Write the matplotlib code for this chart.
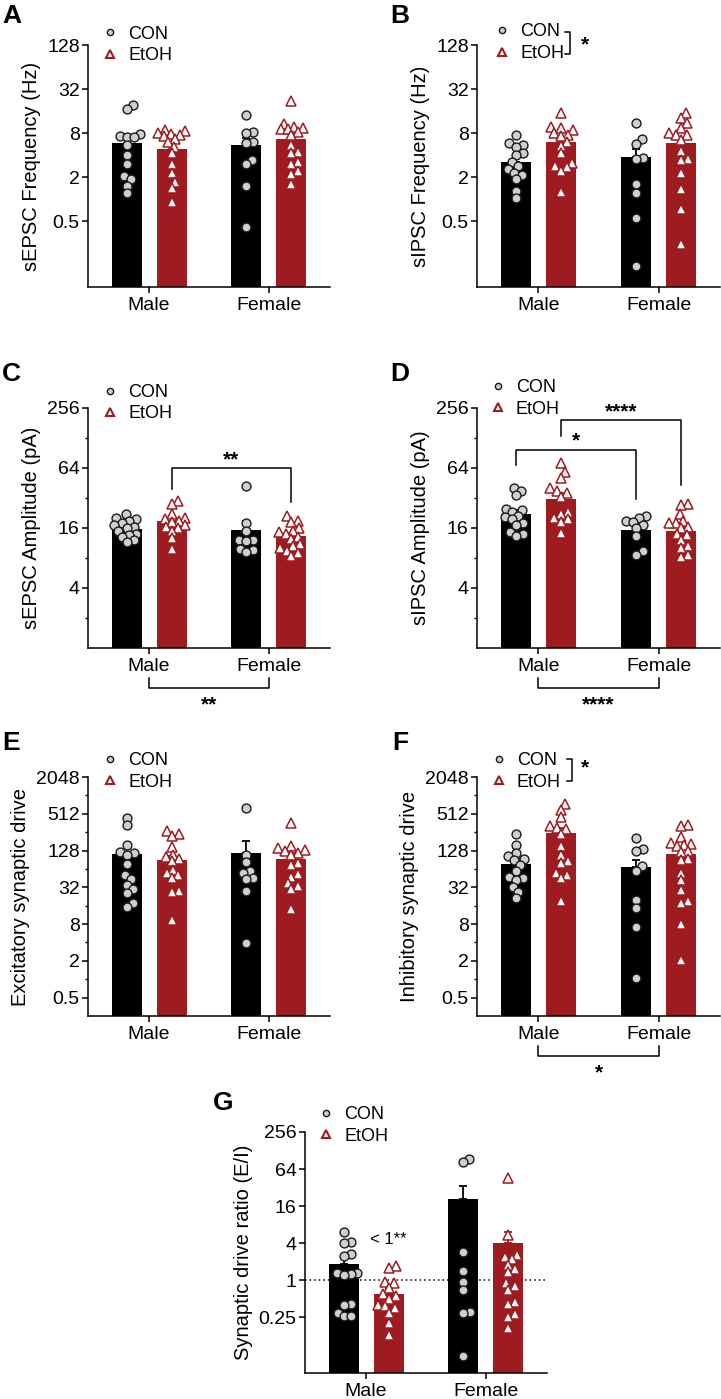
import numpy as np
import matplotlib
matplotlib.use('Agg')
import matplotlib.pyplot as plt
from matplotlib.lines import Line2D

plt.rcParams['font.family'] = ['Liberation Sans', 'DejaVu Sans']

W, H = 721, 1399
RED = '#9e1b20'
GREY = '#cfcfcf'

groups = ['Male', 'Female']
conditions = ['CON', 'EtOH']

# each panel: [male CON, male EtOH, female CON, female EtOH]
sepsc_freq = [
    [19.5, 17.1, 7.8, 7.2, 7.0, 7.0, 5.4, 4.05, 3.0, 2.05, 1.85, 1.53, 1.21],
    [8.8, 8.4, 8.0, 7.8, 7.6, 7.2, 6.6, 6.0, 5.2, 4.2, 3.0, 2.3, 1.7, 1.4, 0.9],
    [14.2, 8.2, 8.0, 6.0, 5.8, 3.4, 3.0, 1.5, 0.42],
    [21.6, 10.5, 9.8, 9.4, 9.0, 9.0, 8.2, 7.4, 5.5, 4.4, 4.2, 3.2, 3.0, 2.4, 2.2, 1.6],
]
sepsc_freq_mean = [5.8, 4.85, 5.4, 6.6]
sepsc_freq_sem = [1.4, 0.6, 1.4, 1.2]

sipsc_freq = [
    [7.4, 5.8, 5.5, 5.2, 4.2, 4.0, 3.2, 2.8, 2.6, 2.3, 2.1, 1.85, 1.3, 1.04],
    [14.9, 9.6, 9.4, 8.8, 7.9, 7.6, 7.2, 6.0, 5.3, 4.2, 3.1, 2.8, 2.7, 2.4, 1.24],
    [10.9, 6.6, 5.7, 3.6, 3.5, 1.58, 1.2, 0.55, 0.12],
    [15, 12.8, 10.9, 9.5, 8.0, 7.6, 7.4, 6.5, 4.5, 3.5, 3.4, 2.3, 1.35, 0.72, 0.24],
]
sipsc_freq_mean = [3.2, 6.1, 3.76, 5.85]
sipsc_freq_sem = [0.6, 0.9, 1.1, 1.0]

sepsc_amp = [
    [22, 20, 19.5, 19, 18, 17, 16.5, 16, 15, 14, 13.5, 13, 12, 11.5],
    [30, 28, 22, 20, 19.5, 19, 18.5, 17, 16.5, 16, 15, 12.7, 9.8],
    [42, 18, 15, 12.2, 12, 11.8, 9.8, 9.6, 9.1],
    [21, 19, 18.5, 16, 15, 14.5, 14, 13, 12.5, 11, 10.5, 10, 9.5, 9, 8.3],
]
sepsc_amp_mean = [15.8, 18.7, 15.4, 13.2]
sepsc_amp_sem = [0.9, 1.6, 3.3, 0.9]

sipsc_amp = [
    [40, 38, 34, 25, 24, 23, 21, 20.5, 19.5, 18, 17, 14.5, 14, 13.2],
    [72, 58, 51, 40, 38, 36, 33, 23, 22, 20, 19.5, 18.5, 14.2],
    [21, 20, 19, 18.5, 17, 16, 13.2, 9.3, 8.6],
    [28, 27, 22, 19, 18, 18, 16.5, 16, 14, 13.5, 12.2, 10.5, 10, 8.6, 8.2],
]
sipsc_amp_mean = [22.1, 31.3, 15.4, 14.8]
sipsc_amp_sem = [2.4, 4.5, 1.5, 1.5]

exc_drive = [
    [440, 330, 155, 120, 115, 110, 78, 50, 43, 35, 30, 26, 18, 15.5],
    [265, 240, 218, 146, 110, 100, 92, 85, 62, 55, 50, 45, 28, 27, 9.4],
    [635, 109, 83, 60, 55, 45, 43, 28, 3.9],
    [360, 150, 140, 130, 125, 115, 110, 80, 75, 52, 48, 38, 34, 30, 14],
]
exc_drive_mean = [112, 88, 116, 93]
exc_drive_sem = [33, 18, 65, 22]

inh_drive = [
    [240, 160, 116, 105, 93, 88, 75, 60, 48, 46, 42, 32, 27, 21],
    [750, 600, 450, 320, 300, 290, 240, 150, 110, 85, 80, 55, 50, 45, 19],
    [205, 135, 124, 72, 60, 20, 14.6, 7.3, 1.04],
    [330, 320, 210, 170, 165, 160, 150, 125, 120, 92, 88, 55, 42, 29, 19, 17.5, 8, 2.1],
]
inh_drive_mean = [77, 247, 69, 114]
inh_drive_sem = [16, 52, 22, 22]

ei_ratio = [
    [6.1, 4.2, 4.0, 2.7, 2.5, 1.3, 1.3, 1.25, 1.2, 0.42, 0.4, 0.3, 0.26, 0.26],
    [1.7, 1.6, 0.95, 0.9, 0.75, 0.6, 0.55, 0.5, 0.4, 0.38, 0.35, 0.3, 0.2, 0.13],
    [95, 83, 2.9, 1.42, 0.95, 0.7, 0.31, 0.3, 0.058],
    [46, 5.4, 2.6, 2.4, 2.2, 1.75, 1.5, 1.34, 0.9, 0.8, 0.7, 0.45, 0.42, 0.28, 0.25, 0.17],
]
ei_ratio_mean = [1.83, 0.61, 20.6, 4.1]
ei_ratio_sem = [0.52, 0.12, 13, 2.1]

ticks_freq = [0.5, 2, 8, 32, 128]
ticks_amp = [4, 16, 64, 256]
ticks_drive = [0.5, 2, 8, 32, 128, 512, 2048]
ticks_ratio = [0.25, 1, 4, 16, 64, 256]

# x layout: group centres 0 / 1, bars offset by +-0.1875
OFF = 0.1875
BW = 0.25
xpos = [-OFF, OFF, 1 - OFF, 1 + OFF]


def add_ax(l, r, t, b):
    return fig.add_axes([l / W, 1 - b / H, (r - l) / W, (b - t) / H])


def swarm(ax, xc, vals, diam=7.0, half=13.5):
    # simple beeswarm in pixel space
    pts = ax.transData.transform(np.column_stack([np.full(len(vals), xc), vals]))
    ys = pts[:, 1]
    order = np.argsort(ys)
    steps = np.arange(0.5, half + 0.01, 0.5)
    cands = [0.0] + [s * sg for s in steps for sg in (1, -1)]
    px, py = [], []
    offs = np.zeros(len(vals))
    for i in order:
        best, best_d = 0.0, -1.0
        for c in cands:
            d = np.min(np.hypot(np.array(px) - c, np.array(py) - ys[i])) if px else np.inf
            if d >= diam:
                best = c
                break
            if d > best_d:
                best_d, best = d, c
        offs[i] = best
        px.append(best)
        py.append(ys[i])
    ppu = ax.transData.transform((1, 1))[0] - ax.transData.transform((0, 1))[0]
    return xc + offs / ppu


def panel(box, data, means, sems, ylim, ticks, ylabel, leg, minor=None):
    ax = add_ax(*box)
    ax.set_yscale('log', base=2)
    ax.set_ylim(*ylim)
    ax.set_xlim(-0.51, 1.51)
    colors = ['black', RED, 'black', RED]
    ax.bar(xpos, np.array(means) - ylim[0], bottom=ylim[0], width=BW,
           color=colors, zorder=1)
    for x, m, s, c in zip(xpos, means, sems, colors):
        ax.errorbar([x], [m], yerr=[[0], [s]], fmt='none', ecolor=c,
                    elinewidth=1.3, capsize=3, capthick=1.3, zorder=2)
    for k, (x, vals) in enumerate(zip(xpos, data)):
        xs = swarm(ax, x, vals)
        if k % 2 == 0:
            ax.plot(xs, vals, 'o', ms=6.4, mfc=GREY, mec='#1a1a1a', mew=1.0,
                    zorder=3, clip_on=False)
        else:
            ax.plot(xs, vals, '^', ms=7.2, mfc='white', mec=RED, mew=1.1,
                    zorder=3, clip_on=False)
    ax.set_yticks(ticks)
    ax.set_yticklabels([f'{t:g}' for t in ticks], fontsize=14)
    if minor:
        ax.set_yticks(minor, minor=True)
        ax.set_yticklabels([], minor=True)
        ax.tick_params(axis='y', which='minor', length=2.5, width=1.0)
    else:
        ax.set_yticks([], minor=True)
    ax.set_xticks([0, 1])
    ax.set_xticklabels(groups, fontsize=14)
    ax.tick_params(axis='both', which='major', length=4, width=1.1, pad=2)
    ax.tick_params(axis='x', which='major', pad=3)
    ax.set_ylabel(ylabel, fontsize=14.5, labelpad=4)
    for s in ['top', 'right']:
        ax.spines[s].set_visible(False)
    for s in ['left', 'bottom']:
        ax.spines[s].set_linewidth(1.1)
    handles = [
        Line2D([], [], marker='o', ls='none', ms=4.5, mfc=GREY, mec='#1a1a1a', mew=1.0),
        Line2D([], [], marker='^', ls='none', ms=6.3, mfc='white', mec=RED, mew=1.5),
    ]
    ax.legend(handles, conditions, loc='center left', bbox_to_anchor=leg,
              frameon=False, fontsize=13, handlelength=1.0, handletextpad=0.5,
              labelspacing=0.25, borderpad=0, borderaxespad=0)
    return ax


def bracket(ax, x1, x2, y, y1, y2, text):
    ax.plot([x1, x1, x2, x2], [y1, y, y, y2], color='black', lw=1.1,
            clip_on=False, zorder=4)
    ax.annotate(text, xy=((x1 + x2) / 2, y), xytext=(0, 6), textcoords='offset points',
                ha='center', va='center', fontsize=15, fontweight='bold')


def bracket_below(ax, text):
    tr = ax.get_xaxis_transform()
    ax.plot([0, 0, 1, 1], [-0.125, -0.167, -0.167, -0.125], color='black', lw=1.1,
            transform=tr, clip_on=False)
    ax.annotate(text, xy=(0.5, -0.167), xycoords=tr, xytext=(0, -12),
                textcoords='offset points', ha='center', va='center',
                fontsize=15, fontweight='bold')


def legend_star(ax, x, y0, y1, xs, ys):
    ax.plot([x - 0.022, x, x, x - 0.022], [y0, y0, y1, y1], color='black', lw=1.1,
            transform=ax.transAxes, clip_on=False)
    ax.text(xs, ys, '*', transform=ax.transAxes, ha='center', va='center',
            fontsize=15, fontweight='bold')


fig = plt.figure(figsize=(W / 100, H / 100), dpi=100)

axA = panel((88, 330, 45, 287), sepsc_freq, sepsc_freq_mean, sepsc_freq_sem,
            (2 ** -4, 2 ** 7), ticks_freq, 'sEPSC Frequency (Hz)', (0.054, 1.0))
axB = panel((477, 720, 45, 287), sipsc_freq, sipsc_freq_mean, sipsc_freq_sem,
            (2 ** -4, 2 ** 7), ticks_freq, 'sIPSC Frequency (Hz)', (0.066, 1.01))
legend_star(axB, 0.383, 1.053, 0.963, 0.444, 1.0)

axC = panel((88, 330, 408, 648), sepsc_amp, sepsc_amp_mean, sepsc_amp_sem,
            (1, 256), ticks_amp, 'sEPSC Amplitude (pA)', (0.054, 1.02),
            minor=[2, 8, 32, 128])
bracket(axC, OFF, 1 + OFF, 64, 39, 29, '**')
bracket_below(axC, '**')

axD = panel((477, 720, 408, 648), sipsc_amp, sipsc_amp_mean, sipsc_amp_sem,
            (1, 256), ticks_amp, 'sIPSC Amplitude (pA)', (0.049, 1.04),
            minor=[2, 8, 32, 128])
bracket(axD, -OFF, 1 - OFF, 98, 68, 31.5, '*')
bracket(axD, OFF, 1 + OFF, 193, 133, 43, '****')
bracket_below(axD, '****')

axE = panel((88, 330, 777, 1016), exc_drive, exc_drive_mean, exc_drive_sem,
            (0.25, 2048), ticks_drive, 'Excitatory synaptic drive', (0.054, 1.023),
            minor=[1, 4, 16, 64, 256, 1024])

axF = panel((477, 720, 777, 1016), inh_drive, inh_drive_mean, inh_drive_sem,
            (0.25, 2048), ticks_drive, 'Inhibitory synaptic drive', (0.053, 1.023),
            minor=[1, 4, 16, 64, 256, 1024])
legend_star(axF, 0.391, 1.075, 0.983, 0.444, 1.04)
bracket_below(axF, '*')

axG = panel((305, 547, 1132, 1373), ei_ratio, ei_ratio_mean, ei_ratio_sem,
            (2 ** -5, 256), ticks_ratio, 'Synaptic drive ratio (E/I)', (0.05, 1.027))
axG.axhline(1, color='black', lw=1.1, ls=(0, (1, 2)), zorder=0.5)
axG.text(OFF, 4.6, '< 1**', ha='center', va='center', fontsize=12)

letters = [('A', 2, 4), ('B', 390, 4), ('C', 2, 362), ('D', 390, 362),
           ('E', 2, 731), ('F', 392, 731), ('G', 213, 1091)]
for lab, x, y in letters:
    fig.text(x / W, 1 - y / H, lab, ha='left', va='top', fontsize=19,
             fontweight='bold')

fig.savefig('out.png', dpi=100)
